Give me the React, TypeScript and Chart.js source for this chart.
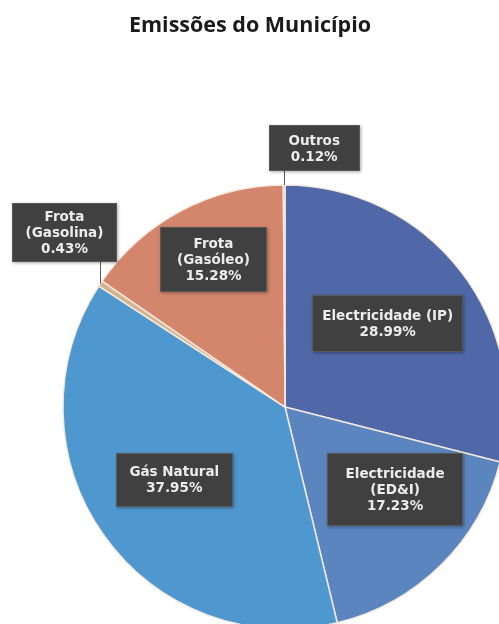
import React, { useEffect, useRef } from "react";
import { Chart, registerables } from "chart.js";

Chart.register(...registerables);

// Emission shares by source (percent of total), clockwise from 12 o'clock
const categories = [
  "Electricidade (IP)",
  "Electricidade (ED&I)",
  "Gás Natural",
  "Frota (Gasolina)",
  "Frota (Gasóleo)",
  "Outros",
];
const shares = [28.99, 17.23, 37.95, 0.43, 15.28, 0.12];

// How each category name is wrapped inside its callout
const calloutNames = [
  ["Electricidade (IP)"],
  ["Electricidade", "(ED&I)"],
  ["Gás Natural"],
  ["Frota", "(Gasolina)"],
  ["Frota", "(Gasóleo)"],
  ["Outros"],
];

const sliceColors = ["#5168a8", "#5a85be", "#4f98cf", "#d2b493", "#d4866c", "#9a9a9a"];

const TITLE = "Emissões do Município";

// Callout placement: inside labels sit on the slice's mid-angle at a fraction of the
// radius (plus a small nudge); outside labels hang above the rim on a leader line.
type Callout =
  | { kind: "inside"; r: number; dx: number; dy: number; w: number; h: number }
  | { kind: "outside"; lift: number; dx: number; w: number; h: number };

const callouts: Callout[] = [
  { kind: "inside", r: 0.6, dx: -2.5, dy: -2, w: 151, h: 57 },
  { kind: "inside", r: 0.6, dx: 16.5, dy: -12, w: 136, h: 73 },
  { kind: "inside", r: 0.6, dx: -2, dy: -4, w: 117, h: 54 },
  { kind: "outside", lift: 22, dx: -36, w: 105, h: 59 },
  { kind: "inside", r: 0.75, dx: 6.5, dy: 0, w: 107, h: 65 },
  { kind: "outside", lift: 14, dx: 30, w: 91, h: 46 },
];

const LABEL_FONT = 'bold 13.5px "DejaVu Sans"';
const LINE_GAP = 16;

const titlePlugin = {
  id: "pageTitle",
  afterDraw(chart: Chart) {
    const ctx = chart.ctx;
    ctx.save();
    ctx.font = 'bold 21.5px "Open Sans"';
    ctx.fillStyle = "#1a1a1a";
    ctx.textAlign = "center";
    ctx.textBaseline = "middle";
    ctx.fillText(TITLE, 250, 26);
    ctx.restore();
  },
};

const calloutPlugin = {
  id: "sliceCallouts",
  afterDatasetsDraw(chart: Chart) {
    const ctx = chart.ctx;
    const meta = chart.getDatasetMeta(0);
    meta.data.forEach((el: any, i: number) => {
      const { x, y, startAngle, endAngle, outerRadius } = el.getProps(
        ["x", "y", "startAngle", "endAngle", "outerRadius"],
        true
      );
      const mid = (startAngle + endAngle) / 2;
      const c = callouts[i];
      const lines = [...calloutNames[i], shares[i].toFixed(2) + "%"];
      let cx: number;
      let cy: number;
      ctx.save();
      if (c.kind === "inside") {
        cx = x + Math.cos(mid) * outerRadius * c.r + c.dx;
        cy = y + Math.sin(mid) * outerRadius * c.r + c.dy;
      } else {
        const ex = x + Math.cos(mid) * outerRadius;
        const ey = y + Math.sin(mid) * outerRadius;
        const top = ey - c.lift;
        ctx.strokeStyle = "#5a5a5a";
        ctx.lineWidth = 1;
        ctx.beginPath();
        ctx.moveTo(Math.round(ex) + 0.5, ey);
        ctx.lineTo(Math.round(ex) + 0.5, top);
        ctx.stroke();
        cx = ex + c.dx;
        cy = top - c.h / 2;
      }
      const bx = Math.round(cx - c.w / 2);
      const by = Math.round(cy - c.h / 2);
      ctx.shadowColor = "rgba(0,0,0,0.35)";
      ctx.shadowBlur = 3;
      ctx.shadowOffsetX = 1;
      ctx.shadowOffsetY = 1;
      ctx.fillStyle = "#404040";
      ctx.fillRect(bx, by, c.w, c.h);
      ctx.shadowColor = "transparent";
      ctx.strokeStyle = "#595959";
      ctx.lineWidth = 1;
      ctx.strokeRect(bx + 0.5, by + 0.5, c.w - 1, c.h - 1);
      ctx.fillStyle = "#ececec";
      ctx.font = LABEL_FONT;
      ctx.textAlign = "center";
      ctx.textBaseline = "middle";
      const first = cy - ((lines.length - 1) * LINE_GAP) / 2;
      lines.forEach((t, k) => ctx.fillText(t, cx, first + k * LINE_GAP + 1));
      ctx.restore();
    });
  },
};

export default function App() {
  const canvasRef = useRef<HTMLCanvasElement | null>(null);

  useEffect(() => {
    if (!canvasRef.current) return;
    const chart = new Chart(canvasRef.current, {
      type: "pie",
      data: {
        labels: categories,
        datasets: [
          {
            data: shares,
            backgroundColor: sliceColors,
            borderColor: "rgba(246,234,222,0.95)",
            borderWidth: 1.5,
            radius: 222,
          },
        ],
      },
      options: {
        responsive: false,
        animation: false,
        devicePixelRatio: 1,
        layout: { padding: { left: 63, top: 185, right: 13, bottom: 31 } },
        plugins: {
          legend: { display: false },
          title: { display: false },
          tooltip: { enabled: false },
        },
        events: [],
      },
      plugins: [titlePlugin, calloutPlugin],
    });
    return () => chart.destroy();
  }, []);

  return (
    <div
      style={{
        position: "fixed",
        left: 0,
        top: 0,
        width: 499,
        height: 624,
        overflow: "hidden",
        background: "#ffffff",
      }}
    >
      <canvas
        ref={canvasRef}
        width={520}
        height={660}
        style={{ position: "absolute", left: 0, top: 0, width: 520, height: 660 }}
      />
    </div>
  );
}
